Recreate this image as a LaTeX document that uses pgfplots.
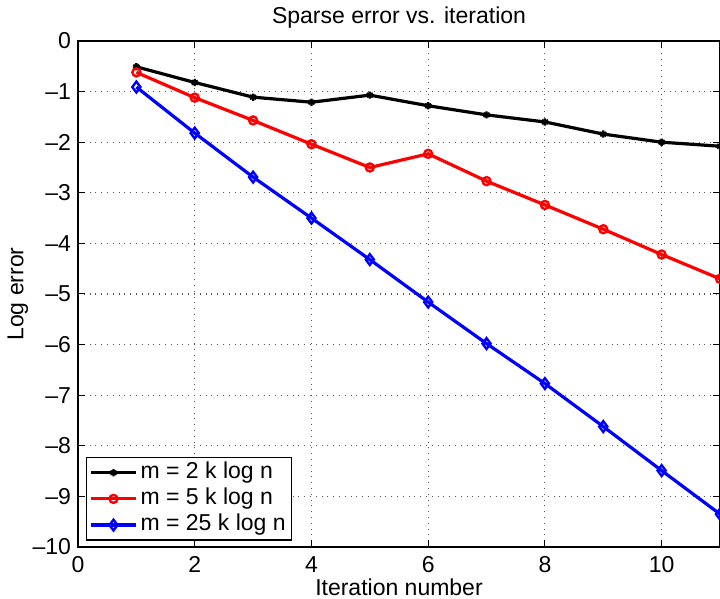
\documentclass[border=0pt]{standalone}
\usepackage{fontspec}
\setmainfont{Liberation Sans}
\usepackage{pgfplots}
\pgfplotsset{compat=1.18}
\begin{document}
\begin{tikzpicture}[font=\fontsize{11.5}{13.5}\selectfont]
\begin{axis}[
  at={(0,0)}, anchor=south west,
  scale only axis, width=321pt, height=253pt,
  xmin=0, xmax=11, ymin=-10, ymax=0,
  xtick={0,2,4,6,8,10},
  ytick={-10,-9,-8,-7,-6,-5,-4,-3,-2,-1,0},
  yticklabels={--10,--9,--8,--7,--6,--5,--4,--3,--2,--1,0},
  grid=major,
  major grid style={dash pattern=on 0.5pt off 2.4pt, black!65, line width=0.55pt},
  tick align=inside, major tick length=3.5pt,
  axis line style={line width=0.6pt},
  every tick/.style={black, line width=0.5pt},
  /pgf/number format/assume math mode=true,
  ticklabel style={font=\fontsize{11.5}{13.5}\selectfont},
  xticklabel style={anchor=base, yshift=-13pt},
  yticklabel style={anchor=east},
  title={Sparse error vs. iteration},
  title style={anchor=base, at={(axis description cs:0.5,1)}, yshift=2.5pt},
  xlabel={Iteration number},
  xlabel style={anchor=base, at={(axis description cs:0.5,-0.0968)}},
  ylabel={Log error},
  ylabel style={anchor=center, at={(axis description cs:-0.0935,0.5)}},
  legend cell align=left,
  legend style={at={(axis description cs:0,0)}, anchor=south west,
    xshift=3.9pt, yshift=3.2pt, draw=black, line width=0.6pt, fill=white,
    inner xsep=1.5pt, inner ysep=1.2pt, row sep=0.6pt,
    nodes={inner sep=1.5pt, text height=0.75em, text depth=0.2em},
    font=\fontsize{11.5}{13.5}\selectfont},
  legend image code/.code={\draw[mark repeat=2,mark phase=2] plot coordinates {(0pt,0pt) (11.25pt,0pt) (22.5pt,0pt)};},
]
\addplot[black, line width=1.6pt, mark=asterisk, mark size=1.8pt, mark options={solid, line width=1.2pt}] coordinates {
(1,-0.51) (2,-0.82) (3,-1.11) (4,-1.21) (5,-1.07) (6,-1.28) (7,-1.46) (8,-1.60) (9,-1.84) (10,-2.00) (11,-2.08)};
\addlegendentry{m = 2 k log n}
\addplot[red, line width=1.6pt, mark=o, mark size=2pt, mark options={solid, line width=1.2pt}] coordinates {
(1,-0.62) (2,-1.12) (3,-1.57) (4,-2.04) (5,-2.50) (6,-2.23) (7,-2.77) (8,-3.24) (9,-3.72) (10,-4.22) (11,-4.70)};
\addlegendentry{m = 5 k log n}
\addplot[blue, line width=1.6pt, mark=diamond, mark size=2.7pt, mark options={solid, line width=1.2pt}] coordinates {
(1,-0.91) (2,-1.82) (3,-2.69) (4,-3.50) (5,-4.32) (6,-5.16) (7,-5.98) (8,-6.77) (9,-7.62) (10,-8.49) (11,-9.35)};
\addlegendentry{m = 25 k log n}
\end{axis}
\pgfresetboundingbox
\path (-39pt,-26pt) rectangle (321pt,273.5pt);
\end{tikzpicture}
\end{document}
